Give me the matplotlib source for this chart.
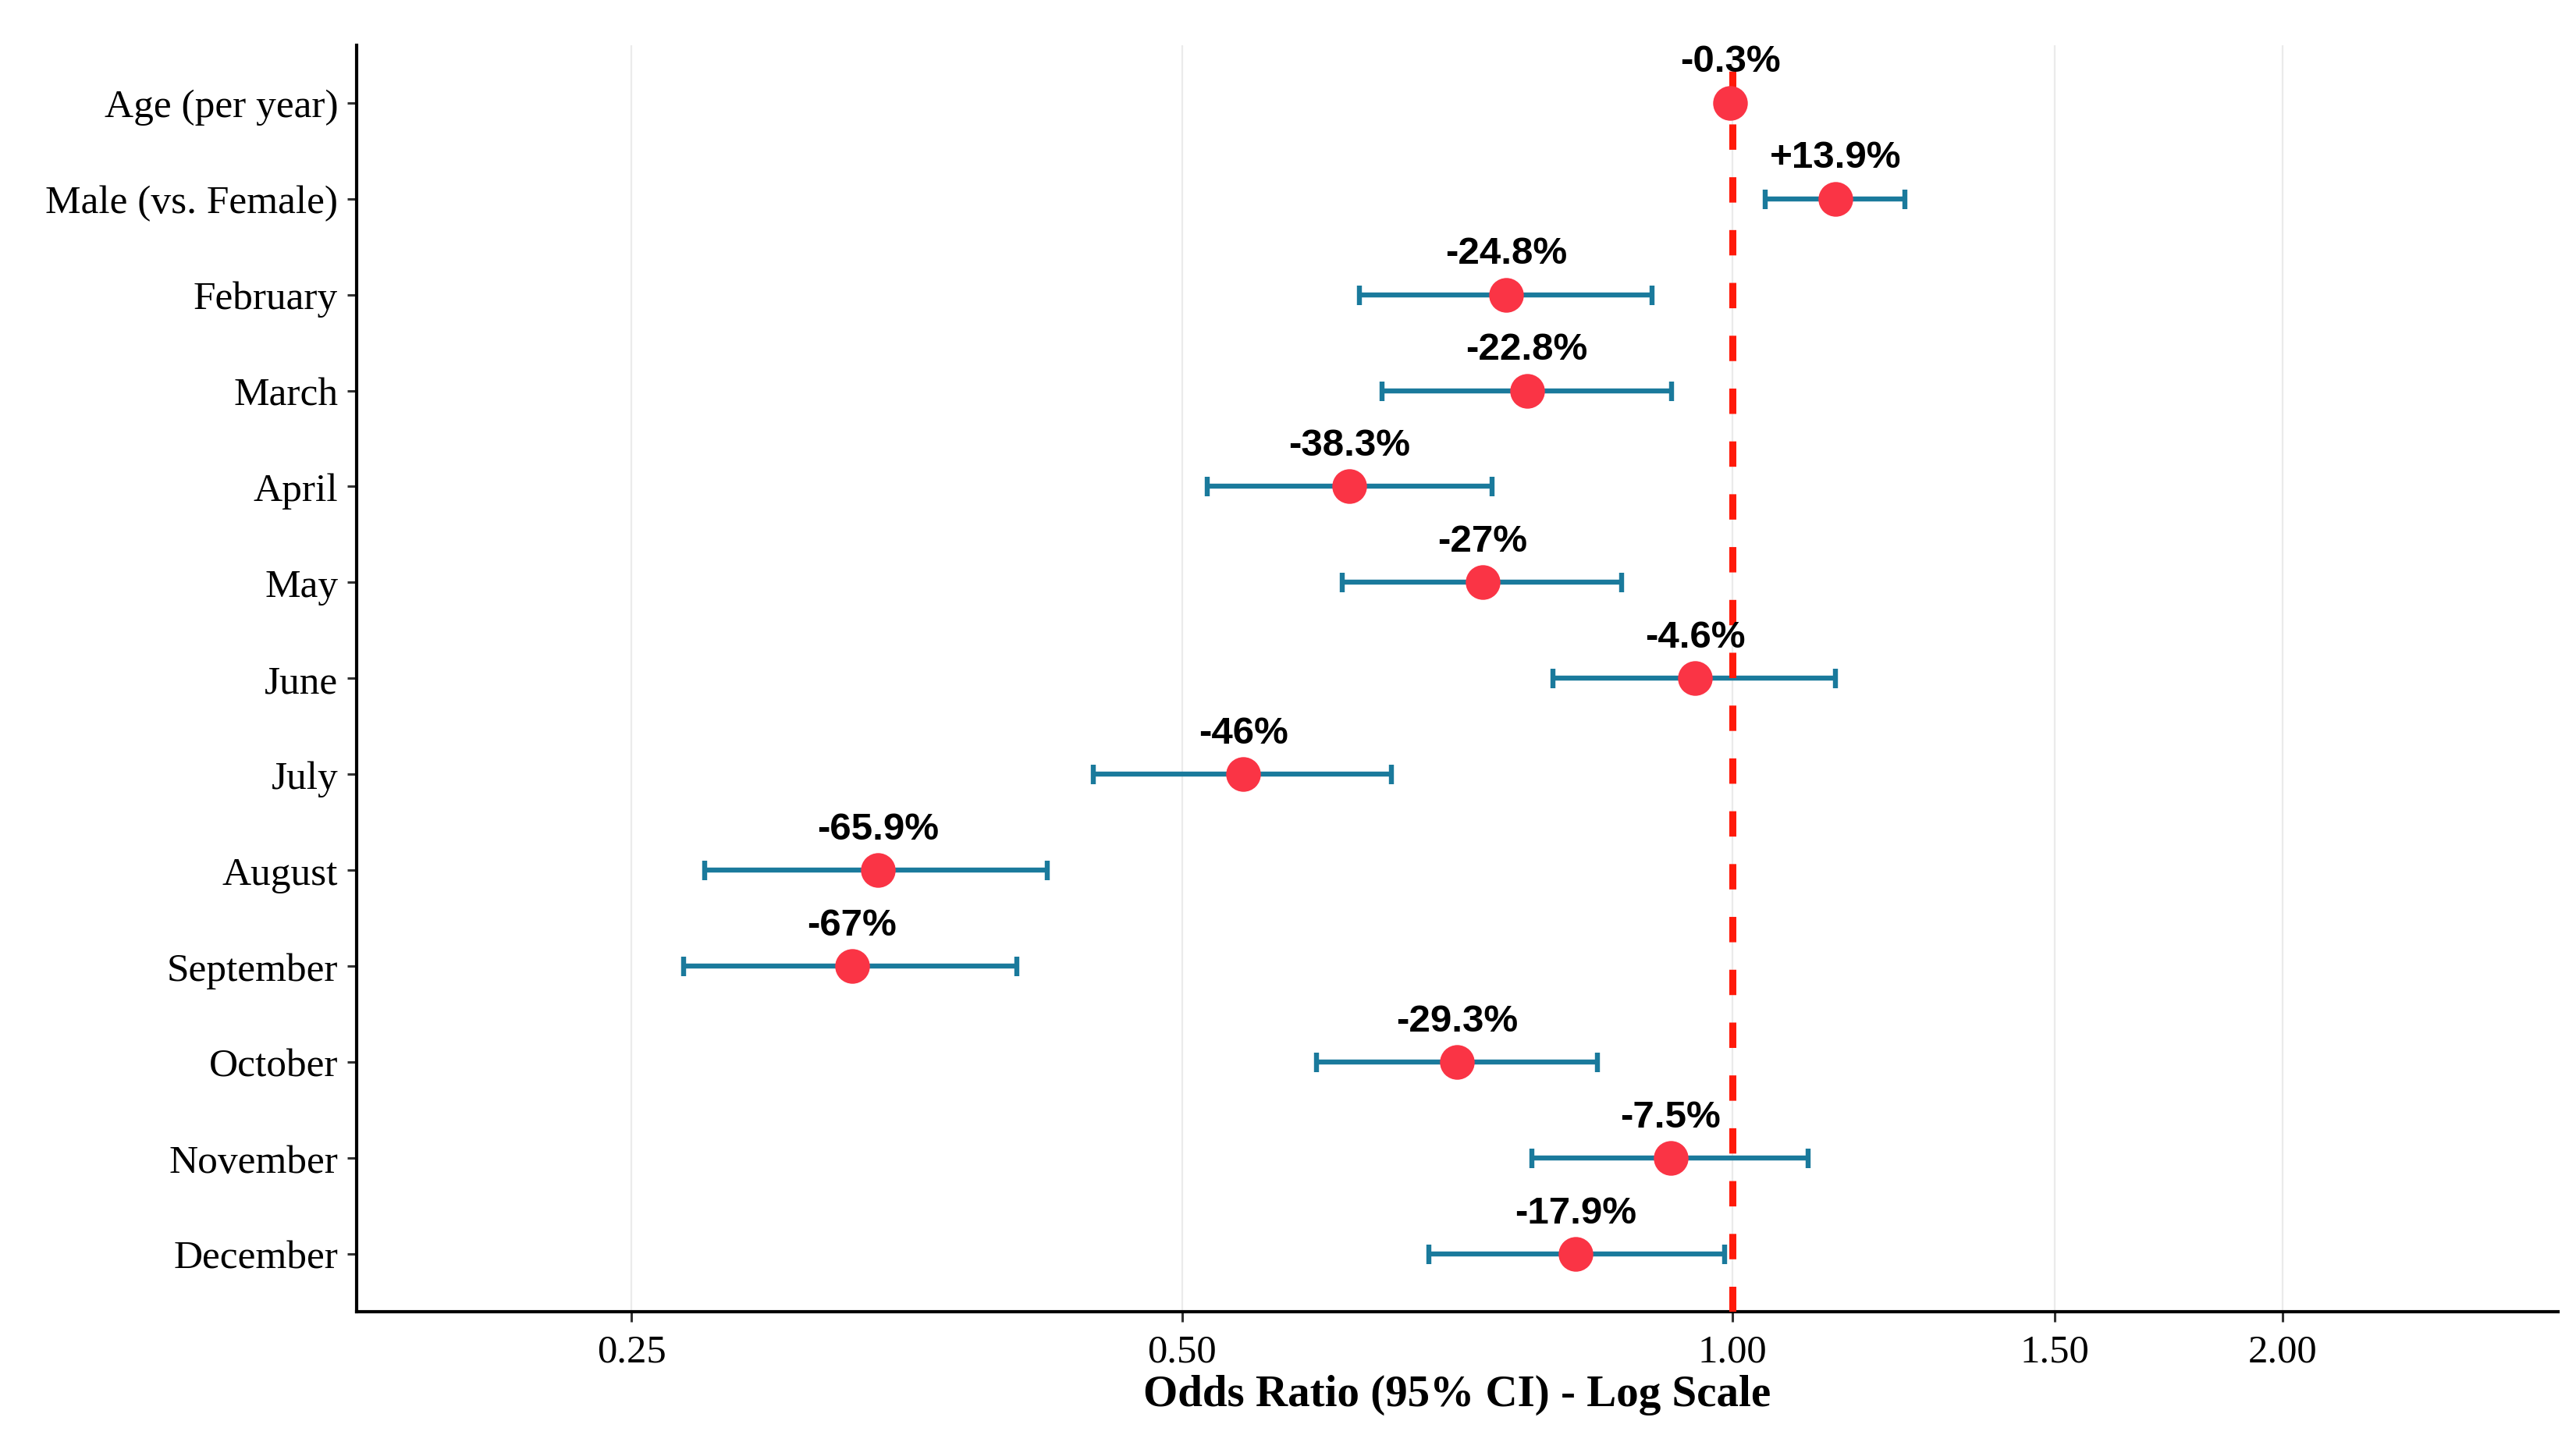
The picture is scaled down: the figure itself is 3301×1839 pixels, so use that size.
import matplotlib
matplotlib.use("Agg")
import matplotlib.pyplot as plt
import numpy as np
from matplotlib.ticker import FixedLocator, FixedFormatter, NullLocator

# ---- data ----
categories = ["Age (per year)", "Male (vs. Female)", "February", "March", "April",
              "May", "June", "July", "August", "September", "October",
              "November", "December"]
odds_ratio = [0.997, 1.139, 0.752, 0.772, 0.617, 0.730, 0.954, 0.540,
              0.341, 0.330, 0.707, 0.925, 0.821]
ci_low = [0.996, 1.042, 0.625, 0.643, 0.516, 0.612, 0.798, 0.447,
          0.274, 0.267, 0.592, 0.777, 0.682]
ci_high = [0.998, 1.243, 0.904, 0.926, 0.739, 0.870, 1.139, 0.651,
           0.422, 0.406, 0.844, 1.100, 0.990]
pct_labels = ["-0.3%", "+13.9%", "-24.8%", "-22.8%", "-38.3%", "-27%", "-4.6%",
              "-46%", "-65.9%", "-67%", "-29.3%", "-7.5%", "-17.9%"]
x_ticks = [0.25, 0.50, 1.00, 1.50, 2.00]
x_tick_labels = ["0.25", "0.50", "1.00", "1.50", "2.00"]

serif = ["Liberation Serif", "DejaVu Serif"]
sans = ["Liberation Sans", "DejaVu Sans"]

fig = plt.figure(figsize=(33.01, 18.40), dpi=100)
ax = fig.add_axes([0.1384, 0.0859, 0.993 - 0.1384, 0.968 - 0.0859])

y = np.arange(len(categories))
or_arr = np.array(odds_ratio)
lo = np.array(ci_low)
hi = np.array(ci_high)

ax.set_xscale("log")
ax.set_xlim(2 ** -2.5, 2 ** 1.5)
ax.set_ylim(len(categories) - 1 + 0.6, -0.6)

# grid
for xv in x_ticks:
    ax.axvline(xv, color="#EBEBEB", lw=1.6, zorder=0)

ax.errorbar(or_arr, y, xerr=[or_arr - lo, hi - or_arr], fmt="none",
            ecolor="#1A7A9C", elinewidth=4.6, capsize=9, capthick=4.6, zorder=2)
ax.axvline(1.0, color="#FF1A0A", lw=6.5, linestyle=(0, (3.6, 3.9)), zorder=3)
ax.plot(or_arr, y, "o", color="#FA3445", markersize=32, markeredgewidth=0, zorder=4)

for xi, yi, lab in zip(or_arr, y, pct_labels):
    ax.annotate(lab, (xi, yi), xytext=(0, 29), textcoords="offset points",
                ha="center", va="baseline", fontsize=35.5, fontweight="bold",
                family=sans, color="black", zorder=5)

ax.xaxis.set_major_locator(FixedLocator(x_ticks))
ax.xaxis.set_major_formatter(FixedFormatter(x_tick_labels))
ax.xaxis.set_minor_locator(NullLocator())
ax.set_yticks(y)
ax.set_yticklabels(categories)

for lab in ax.get_xticklabels():
    lab.set_family(serif)
    lab.set_fontsize(36.5)
    lab.set_color("black")
for lab in ax.get_yticklabels():
    lab.set_family(serif)
    lab.set_fontsize(37)
    lab.set_color("black")

ax.tick_params(axis="both", which="major", length=9, width=2.2, color="#333333")
ax.tick_params(axis="x", pad=11)
ax.tick_params(axis="y", pad=8)

ax.set_xlabel("Odds Ratio (95% CI) - Log Scale", family=serif, fontsize=41,
              fontweight="bold", labelpad=4)

for s in ["top", "right"]:
    ax.spines[s].set_visible(False)
for s in ["left", "bottom"]:
    ax.spines[s].set_linewidth(3)
    ax.spines[s].set_color("black")

fig.savefig("out.png", dpi=100, facecolor="white")
